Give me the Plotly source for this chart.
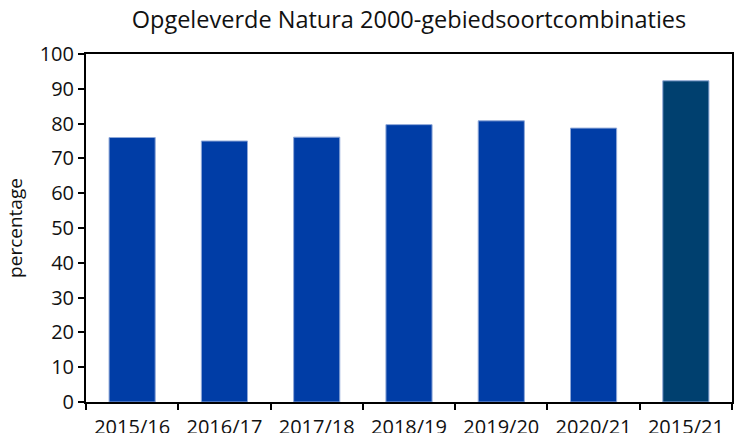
import plotly.graph_objects as go

categories = ["2015/16", "2016/17", "2017/18", "2018/19", "2019/20", "2020/21", "2015/21"]
values = [76.0, 75.0, 76.1, 79.7, 80.8, 78.7, 92.3]
colors = ["#003DA6"] * 6 + ["#00406F"]

fig = go.Figure(go.Bar(
    x=categories, y=values,
    marker=dict(color=colors, line=dict(color="#8FA8D8", width=1)),
    width=0.5,
))

font = "Open Sans, sans-serif"
fig.update_layout(
    width=738, height=433,
    margin=dict(l=86, r=6, t=54, b=31, autoexpand=False),
    plot_bgcolor="white", paper_bgcolor="white",
    showlegend=False,
    title=dict(text="Opgeleverde Natura 2000-gebiedsoortcombinaties",
               x=(86 + 732) / 2 / 738, xanchor="center", y=0.954, yanchor="middle",
               font=dict(family=font, size=23.5, color="#111"), automargin=False),
    font=dict(family=font, size=20, color="#111"),
)
fig.update_xaxes(
    showline=True, linecolor="black", linewidth=2, mirror=True, automargin=False,
    ticks="outside", tickson="boundaries", ticklen=6, tickcolor="black", tickwidth=2,
    tickfont=dict(size=20), showgrid=False, ticklabelstandoff=6,
)
fig.update_yaxes(
    range=[0, 100], dtick=10, automargin=False,
    showline=True, linecolor="black", linewidth=2, mirror=True,
    ticks="outside", ticklen=6, tickcolor="black", tickwidth=2,
    tickfont=dict(size=20), showgrid=False,
    title=dict(text="percentage", font=dict(size=19), standoff=12),
)
fig.write_html("out.html", config={"displayModeBar": False},
               post_script="document.body.style.margin='0';document.body.style.overflow='hidden';")
